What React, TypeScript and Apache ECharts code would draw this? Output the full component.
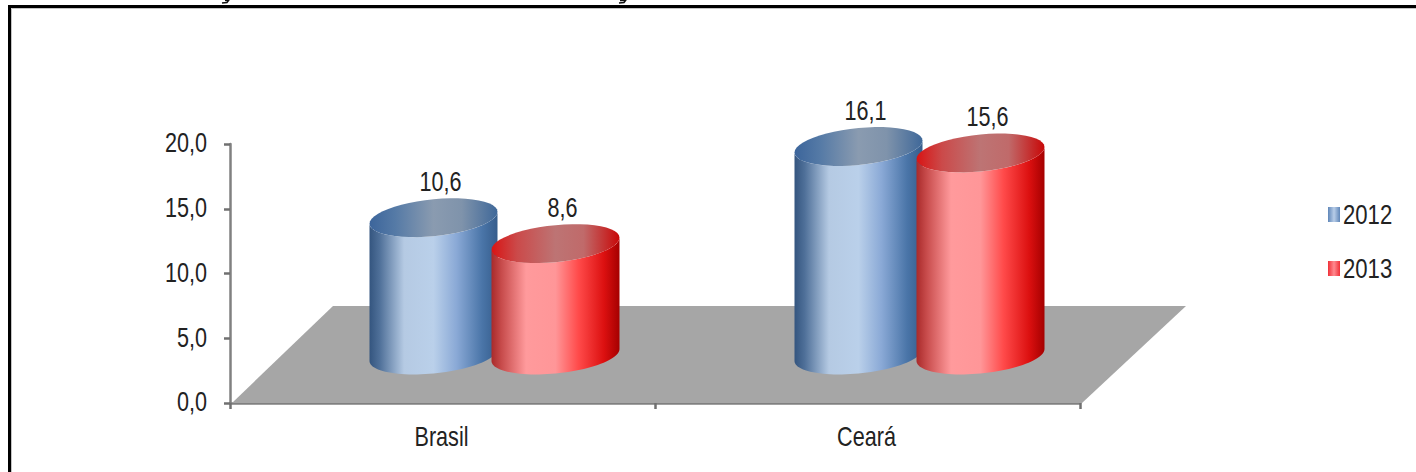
import React, { useEffect, useRef } from "react";
import * as echarts from "echarts";

const categories = ["Brasil", "Ceará"];
const seriesNames = ["2012", "2013"];
const values2012 = [10.6, 16.1];
const values2013 = [8.6, 15.6];
const yTickValues = [0, 5, 10, 15, 20];
const yTicks = { min: 0, max: 20, interval: 5 };

const FONT = "'Liberation Sans', Arial, sans-serif";
const TEXT = "#222";
const FONT_SIZE = 27;
// The installed sans has no narrow cut, so every label is squeezed horizontally.
const NARROW = 0.8;

const decimal = (v: number) => v.toFixed(1).replace(".", ",");

const hGrad = (stops: [number, string][]) =>
  new echarts.graphic.LinearGradient(0, 0, 1, 0, stops.map(([offset, color]) => ({ offset, color })));

const palette = [
  {
    body: hGrad([[0, "#34557f"], [0.08, "#4f7099"], [0.27, "#b5cae3"], [0.5, "#bad0ea"], [0.68, "#8aa9d6"], [0.88, "#4a75a8"], [1, "#365d8c"]]),
    top: hGrad([[0, "#3c659b"], [0.2, "#557aa6"], [0.5, "#8a9bb0"], [0.72, "#7f93ab"], [1, "#3f6899"]]),
    legend: hGrad([[0, "#5f86b8"], [0.5, "#b8cde8"], [1, "#5f86b8"]]),
    offset: -9,
  },
  {
    body: hGrad([[0, "#a92a2a"], [0.08, "#c84c4c"], [0.27, "#ff9a9c"], [0.5, "#ff9698"], [0.68, "#ff4a4a"], [0.88, "#dc1010"], [1, "#a50000"]]),
    top: hGrad([[0, "#d81414"], [0.2, "#cb4a4a"], [0.5, "#bd7474"], [0.72, "#c06a6a"], [1, "#c80808"]]),
    legend: hGrad([[0, "#f03038"], [0.5, "#ff8a90"], [1, "#f03038"]]),
    offset: 113,
  },
];

// Half-axes of the slanted ellipses that cap each cylinder, and the lift of the base above the axis.
const RX = 64;
const RY = 18.5;
const SLANT = 6;
const BASE_LIFT = 48;

// Point on a slanted ellipse: the left and right extremes stay vertical tangents of the cylinder wall.
const ellipsePoint = (cx: number, cy: number, t: number) => [
  cx + RX * Math.cos(t),
  cy + RY * Math.sin(t) - SLANT * Math.cos(t),
];

const arc = (cx: number, cy: number, from: number, to: number) => {
  const pts: number[][] = [];
  for (let i = 0; i <= 48; i++) pts.push(ellipsePoint(cx, cy, from + ((to - from) * i) / 48));
  return pts;
};

const label = (text: string, x: number, y: number, align: string) => ({
  type: "text",
  x,
  y,
  scaleX: NARROW,
  style: { text, fill: TEXT, font: `${FONT_SIZE}px ${FONT}`, align, verticalAlign: "middle" },
});

const cylinder = (seriesIndex: number) => (params: any, api: any) => {
  const cat = api.value(0);
  const val = api.value(1);
  const [x0, y0] = api.coord([cat, 0]);
  const [, yv] = api.coord([cat, val]);
  const style = palette[seriesIndex];
  const cx = x0 + style.offset;
  const baseY = y0 - BASE_LIFT;
  const topY = baseY - (y0 - yv);
  const wall = [...arc(cx, baseY, 0, Math.PI), ...arc(cx, topY, Math.PI, 0)];
  return {
    type: "group",
    children: [
      { type: "polygon", shape: { points: wall }, style: { fill: style.body } },
      { type: "polygon", shape: { points: arc(cx, topY, 0, Math.PI * 2) }, style: { fill: style.top } },
      label(decimal(val), cx + 7, topY - RY - 17.5, "center"),
    ],
  };
};

const rows = (values: number[]) => values.map((v, i) => [i, v]);

export default function App() {
  const ref = useRef<HTMLDivElement>(null);
  useEffect(() => {
    document.body.style.margin = "0";
    const chart = echarts.init(ref.current!, null, { renderer: "svg" });
    chart.setOption({
      animation: false,
      backgroundColor: "#fff",
      grid: { left: 230, right: 336, top: 144, bottom: 69, containLabel: false },
      xAxis: {
        type: "category",
        data: categories,
        boundaryGap: true,
        axisLine: { lineStyle: { color: "#808080", width: 2.5 } },
        axisTick: { show: true, length: 6, lineStyle: { color: "#707070", width: 2.5 } },
        axisLabel: { show: false },
      },
      yAxis: {
        type: "value",
        ...yTicks,
        splitLine: { show: false },
        axisLine: { show: true, lineStyle: { color: "#808080", width: 2.5 } },
        axisTick: { show: true, length: 6, lineStyle: { color: "#707070", width: 2.5 } },
        axisLabel: { show: false },
      },
      graphic: [
        {
          type: "polygon",
          z: 1,
          shape: { points: [[232, 403], [333, 306], [1186, 306], [1082, 403]] },
          style: { fill: "#a6a6a6" },
        },
        // Outer frame: a black rule with a faint inner shadow, open towards the right and bottom.
        { type: "rect", z: 50, shape: { x: 11.5, y: 8.5, width: 1450, height: 520 }, style: { fill: "none", stroke: "#c4c4c4", lineWidth: 1 } },
        { type: "rect", z: 51, shape: { x: 9.5, y: 6.5, width: 1450, height: 520 }, style: { fill: "none", stroke: "#000", lineWidth: 3 } },
        // Tails of the cedillas in the heading cut off above the frame.
        { type: "polyline", z: 51, shape: { points: [[225, 0.5], [228.5, 0.5], [227, 2.5], [222, 3]] }, style: { fill: "none", stroke: "#111", lineWidth: 1.5 } },
        { type: "polyline", z: 51, shape: { points: [[620, 0.5], [625.5, 0.5], [624, 2.5], [619, 3]] }, style: { fill: "none", stroke: "#111", lineWidth: 1.5 } },
        // Legend entries.
        ...seriesNames.flatMap((name, i) => {
          const cy = 214.5 + i * 54;
          return [
            { type: "rect", z: 5, shape: { x: 1328, y: cy - 7.5, width: 12, height: 15 }, style: { fill: palette[i].legend } },
            { ...label(name, 1343, cy, "left"), z: 5, scaleX: 0.82 },
          ];
        }),
      ],
      series: [
        ...[values2012, values2013].map((values, i) => ({
          type: "custom",
          name: seriesNames[i],
          z: 3 + i,
          coordinateSystem: "cartesian2d",
          encode: { x: 0, y: 1 },
          data: rows(values),
          renderItem: cylinder(i),
        })),
        // Axis tick labels, placed through the axes' own scales.
        {
          type: "custom",
          name: "yLabels",
          z: 6,
          coordinateSystem: "cartesian2d",
          encode: { y: 0 },
          data: yTickValues.map((v) => [v]),
          renderItem: (params: any, api: any) => {
            const v = api.value(0);
            const [, y] = api.coord([0, v]);
            return label(decimal(v), params.coordSys.x - 23, y - 1, "right");
          },
        },
        {
          type: "custom",
          name: "xLabels",
          z: 6,
          coordinateSystem: "cartesian2d",
          encode: { x: 0 },
          data: categories.map((_, i) => [i]),
          renderItem: (params: any, api: any) => {
            const i = api.value(0);
            const [x, y] = api.coord([i, 0]);
            return label(categories[i], x - 1, y + 34, "center");
          },
        },
      ],
    });
    return () => chart.dispose();
  }, []);
  return <div ref={ref} style={{ width: 1416, height: 472 }} />;
}
